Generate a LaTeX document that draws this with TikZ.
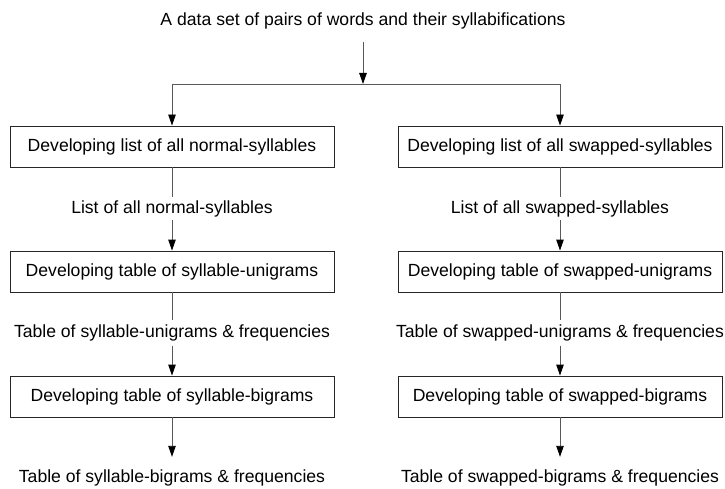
\documentclass[tikz,border=0pt]{standalone}
\usepackage{fontspec}
\setmainfont{Liberation Sans}
\usetikzlibrary{arrows.meta}
\begin{document}
\begin{tikzpicture}[x=1pt,y=-1pt,
  every node/.style={font=\fontsize{17.6}{21}\selectfont},
  stepbox/.style={draw=black!85, line width=0.9pt, minimum width=324pt,
    minimum height=41pt, inner sep=0pt},
  gaplabel/.style={inner sep=0pt, minimum height=#1},
  link/.style={draw=black!65, line width=0.9pt},
  flow/.style={link, -{Triangle[length=11pt,width=7.5pt,color=black,fill=black]}},
]
\useasboundingbox (0,0) rectangle (725,489);

% source data
\node[gaplabel=42pt] (title) at (363,21) {A data set of pairs of words and their syllabifications};
\coordinate (split)  at (363,84);
\coordinate (splitL) at (172,84);
\coordinate (splitR) at (560,84);

% left column: normal syllables
\node[stepbox] (L1) at (172,146.5) {Developing list of all normal-syllables};
\node[gaplabel=23pt] (la) at (172,208.5) {List of all normal-syllables};
\node[stepbox] (L2) at (172,271.5) {Developing table of syllable-unigrams};
\node[gaplabel=25pt] (lb) at (172,333) {Table of syllable-unigrams \& frequencies};
\node[stepbox] (L3) at (172,396.5) {Developing table of syllable-bigrams};
\node[gaplabel=42pt] (lc) at (172,478) {Table of syllable-bigrams \& frequencies};

% right column: swapped syllables
\node[stepbox] (R1) at (560,146.5) {Developing list of all swapped-syllables};
\node[gaplabel=23pt] (ra) at (560,208.5) {List of all swapped-syllables};
\node[stepbox] (R2) at (560,271.5) {Developing table of swapped-unigrams};
\node[gaplabel=25pt] (rb) at (560,333) {Table of swapped-unigrams \& frequencies};
\node[stepbox] (R3) at (560,396.5) {Developing table of swapped-bigrams};
\node[gaplabel=42pt] (rc) at (560,478) {Table of swapped-bigrams \& frequencies};

% connectors
\draw[flow] (title.south) -- (split);
\draw[link] (splitL) -- (splitR);
\draw[flow] (splitL) -- (L1);
\draw[flow] (splitR) -- (R1);

\draw[link] (L1) -- (la);
\draw[flow] (la) -- (L2);
\draw[link] (L2) -- (lb);
\draw[flow] (lb) -- (L3);
\draw[flow] (L3) -- (lc);

\draw[link] (R1) -- (ra);
\draw[flow] (ra) -- (R2);
\draw[link] (R2) -- (rb);
\draw[flow] (rb) -- (R3);
\draw[flow] (R3) -- (rc);
\end{tikzpicture}
\end{document}
